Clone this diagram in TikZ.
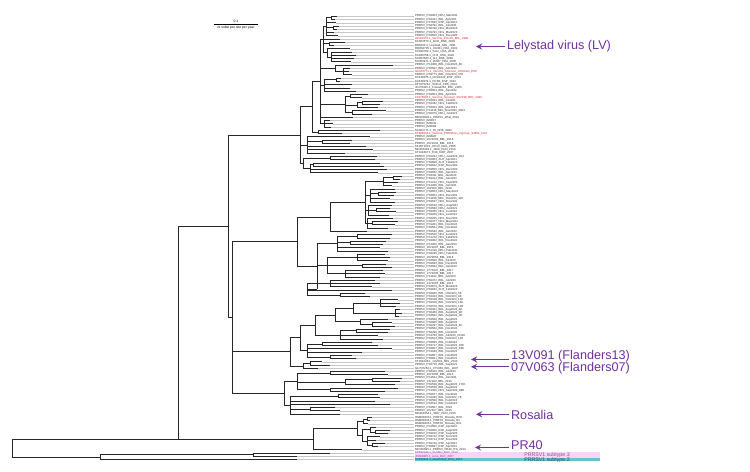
\documentclass[tikz,border=0pt]{standalone}
\usepackage{fontspec}
\setmainfont{Liberation Sans}
\usepackage{xcolor}
\usepackage{tikz}
\usetikzlibrary{arrows}
\definecolor{notepurple}{RGB}{112,48,160}
\definecolor{vacc}{RGB}{228,32,40}
\definecolor{leafc}{RGB}{45,45,45}
\definecolor{subiii}{RGB}{150,60,160}
\definecolor{subii}{RGB}{30,60,90}
\definecolor{bandpink}{RGB}{249,212,249}
\definecolor{bandcyan}{RGB}{96,198,208}
\tikzstyle{branch} = [draw=black!85, line width=0.45pt]
\tikzstyle{guide} = [draw=black!22, line width=0.2pt]
\tikzstyle{leaf} = [anchor=west, inner sep=0.4pt, font=\fontsize{1.65}{1.8}\selectfont]
\tikzstyle{note} = [anchor=west, inner sep=1pt, text=notepurple, font=\fontsize{7.2}{8}\selectfont]
\tikzstyle{pointer} = [draw=notepurple, line width=0.55pt, ->, >=stealth]
\tikzstyle{bandlabel} = [font=\fontsize{3}{3.5}\selectfont]
\tikzstyle{scalelabel} = [inner sep=0pt, font=\fontsize{1.9}{2.2}\selectfont]

\begin{document}
\begin{tikzpicture}[x=0.02cm, y=-0.02cm, declare function={ry(\r)=12.91+3.261*\r;}]
	\useasboundingbox (0,0) rectangle (750,472);
	
	% subtype bands
	\fill[bandpink] (414.5,{ry(134.5)}) rectangle (600,{ry(136.5)});
	\fill[bandcyan] (414.5,{ry(136.5)}) rectangle (600,{ry(137.5)});
	\node (st3) [bandlabel, text=subiii!70!gray] at (547,{ry(135.5)}) {PRRSV1 subtype 3};
	\node (st2) [bandlabel, text=subii!80!gray] at (547,{ry(137)}) {PRRSV1 subtype 2};
	
	% scale bar
	\coordinate (sbl) at (214,24.3);
	\coordinate (sbr) at (258,24.3);
	\draw[line width=0.5pt] (sbl) -- (sbr);
	\node (sbval) [scalelabel] at (236,21.6) {0.1};
	\node (sbunit) [scalelabel] at (236,27.4) {nt subst per site per year};
	
	% leaves: row / parent x / tip x / colour / name
	\foreach \rw/\pa/\tp/\cl/\lab in {
		1/331/337/leafc/PRRSV\_PS0003\_DEU\_Mar2021,
		2/331/335/leafc/PRRSV\_PS0421\_BEL\_Apr2021,
		3/326/336/leafc/PRRSV\_PS7636\_ESP\_Apr2023,
		4/333/339/leafc/PRRSV\_PS0792\_BEL\_Jun2021,
		5/333/337/leafc/PRRSV\_PS0790\_NDL\_Mar2023,
		6/326/334/leafc/PRRSV\_PS0793\_NDL\_Mar2023,
		7/326/338/leafc/PRRSV\_PS0620\_NDL\_Dec2020,
		8/323/340/vacc/AJ010676.1\_Vaccine\_Porcilis\_BEL\_1998,
		9/329/345/leafc/KC862570.1\_1032\_DNK\_2009,
		10/329/334/leafc/M96262.2\_Lelystad\_NDL\_1991,
		11/327/350/leafc/DQ864705.1\_01CB1\_FRA\_2001,
		12/331/352/leafc/KX380760.1\_Swin\_USA\_2014,
		13/331/356/leafc/KX380758.1\_CH4\_USA\_2004,
		14/331/354/leafc/KC862583.1\_111\_DNK\_2009,
		15/331/351/leafc/KU366971.1\_25587\_FRA\_2005,
		16/335/393/leafc/PRRSV\_PS1308\_BEL\_Nov2023\_8K,
		17/343/350/leafc/PRRSV\_PS0697\_BEL\_Jun2023,
		18/343/349/vacc/GU067771.1\_Vaccine\_Amervac\_UniStrain\_ESP,
		19/343/352/leafc/PRRSV\_PS0771\_BEL\_Oct2023\_37K,
		20/336/341/leafc/KX438075.1\_CReSA22\_ESP\_2013,
		21/336/340/leafc/KX438074.1\_DCR3\_ESP\_2012,
		22/324/352/leafc/KF797528.1\_SHE11\_FRA\_2014,
		23/324/350/leafc/JF276435.1\_Cresa3262\_ESP\_2005,
		24/324/356/leafc/PRRSV\_PS0604\_BEL\_Jan2022,
		25/350/368/leafc/PRRSV\_PS0661\_BEL\_Apr2021,
		26/350/362/vacc/LS975963.1\_Vaccine\_Suvaxyn\_96V198\_BEL\_1996,
		27/362/383/leafc/PRRSV\_PS0031\_BEL\_Jul2021,
		28/362/380/leafc/PRRSV\_PS0432\_NDL\_Feb2023,
		29/357/378/leafc/PRRSV\_PS0023\_BEL\_Mar2021,
		30/352/386/leafc/PRRSV\_PS1118\_BEL\_Nov2023\_3604,
		31/352/372/leafc/PRRSV\_PS0079\_DEU\_Jun2021,
		32/320/353/leafc/MN603983.1\_PRRSV\_Dhat\_2019,
		33/324/330/leafc/PRRSV\_IM0017,
		34/324/333/leafc/PRRSV\_IM0049,
		35/324/331/leafc/PRRSV\_IM0089,
		36/318/380/leafc/KC862771.1\_35\_DNK\_2003,
		37/318/342/vacc/KT988004.1\_Vaccine\_PRRSFlex\_Ingelvac\_94881\_USA,
		38/307/370/leafc/PRRSV\_IM0026,
		39/322/352/leafc/PRRSV\_16V1003\_BEL\_2016,
		40/322/350/leafc/PRRSV\_16V1033\_BEL\_2016,
		41/307/366/leafc/KF287130.1\_HK13\_HKG\_2006,
		42/307/373/leafc/MH463418.1\_1488\_HUN\_2016,
		43/307/345/leafc/KT222487.1\_E38\_KOR\_2007,
		44/330/377/leafc/PRRSV\_PS0034\_DEU\_Jun2023\_224,
		45/330/375/leafc/PRRSV\_PS0603\_AUT\_Apr2021,
		46/313/380/leafc/PRRSV\_PS0698\_AUT\_Feb2023,
		47/313/384/leafc/PRRSV\_PS0642\_ESP\_Nov2022,
		48/310/387/leafc/PRRSV\_PS0655\_NDL\_Dec2022,
		49/310/378/leafc/PRRSV\_PS0562\_BEL\_Jan2023,
		50/393/402/leafc/PRRSV\_PS0311\_BEL\_Jan2023,
		51/393/400/leafc/PRRSV\_PS0314\_BEL\_Jan2023,
		52/383/398/leafc/PRRSV\_PS1212\_NDL\_Sep2023,
		53/383/392/leafc/PRRSV\_PS1208\_BEL\_Jan2021,
		54/370/395/leafc/PRRSV\_18V020\_BEL\_2018,
		55/378/396/leafc/PRRSV\_PS0653\_DEU\_May2021,
		56/378/394/leafc/PRRSV\_PS0653\_NDL\_Dec2021,
		57/370/390/leafc/PRRSV\_PS1158\_NDL\_Oct2023\_11K,
		58/370/395/leafc/PRRSV\_PS0637\_NDL\_Nov2021,
		59/368/392/leafc/PRRSV\_PS0618\_DEU\_Aug2021,
		60/376/390/leafc/PRRSV\_PS0580\_DEU\_Jun2021,
		61/376/396/leafc/PRRSV\_PS0265\_NDL\_Jun2022,
		62/368/389/leafc/PRRSV\_PS0269\_NDL\_Jan2022,
		63/367/393/leafc/PRRSV\_PS0225\_NDL\_Nov2022,
		64/372/398/leafc/PRRSV\_PS0377\_NDL\_May2022,
		65/372/395/leafc/PRRSV\_PS1281\_BEL\_Nov2022,
		66/367/388/leafc/PRRSV\_PS0584\_BEL\_Nov2022,
		67/330/367/leafc/PRRSV\_PS0540\_BEL\_Jan2023,
		68/357/392/leafc/PRRSV\_PS0546\_NDL\_Jan2023,
		69/357/390/leafc/PRRSV\_PS1270\_NDL\_Feb2023,
		70/350/386/leafc/PRRSV\_PS0962\_BEL\_Nov2022,
		71/350/383/leafc/PRRSV\_PS1960\_BEL\_Jan2023,
		72/337/380/leafc/PRRSV\_16V1007\_BEL\_2016,
		73/337/388/leafc/PRRSV\_PS1316\_DEU\_Feb2021,
		74/357/385/leafc/PRRSV\_PS0240\_DEU\_Feb2021,
		75/357/390/leafc/PRRSV\_16V0052\_BEL\_2016,
		76/357/388/leafc/PRRSV\_PS0696\_BEL\_Jul2023,
		77/362/386/leafc/PRRSV\_PS0693\_BEL\_Dec2023,
		78/362/392/leafc/PRRSV\_PS0684\_BEL\_Jan2023,
		79/345/383/leafc/PRRSV\_17V1037\_BEL\_2017,
		80/345/385/leafc/PRRSV\_17V1036\_BEL\_2017,
		81/345/380/leafc/PRRSV\_PS1102\_BEL\_Jul2023,
		82/330/375/leafc/PRRSV\_PS0472\_BEL\_Jul2023,
		83/330/380/leafc/PRRSV\_14V1087\_BEL\_2014,
		84/330/372/leafc/PRRSV\_PS0873\_AUT\_Mar2023,
		85/307/392/leafc/PRRSV\_PS0832\_AUT\_Feb2023,
		86/340/365/leafc/PRRSV\_PS0836\_BEL\_Oct2023\_5K,
		87/340/370/leafc/PRRSV\_PS0323\_BEL\_Oct2023\_9K,
		88/380/398/leafc/PRRSV\_PS0328\_BEL\_Oct2023\_12K,
		89/380/400/leafc/PRRSV\_PS0326\_BEL\_Oct2023\_14K,
		90/380/396/leafc/PRRSV\_PS0370\_BEL\_Oct2023\_13K,
		91/395/400/leafc/PRRSV\_PS0461\_BEL\_Aug2023\_8K,
		92/395/402/leafc/PRRSV\_PS0469\_BEL\_Aug2023\_9K,
		93/395/399/leafc/PRRSV\_PS0502\_BEL\_Aug2023\_3K,
		94/360/388/leafc/PRRSV\_PS0580\_BEL\_Aug2023,
		95/372/392/leafc/PRRSV\_PS0606\_BEL\_Aug2023,
		96/372/395/leafc/PRRSV\_PS0297\_BEL\_Sep2023\_4K,
		97/356/390/leafc/PRRSV\_PS0584\_BEL\_Nov2022,
		98/356/388/leafc/PRRSV\_PS0296\_BEL\_Nov2022,
		99/340/378/leafc/PRRSV\_PS1700\_BEL\_Jul2023\_2111K,
		100/340/383/leafc/PRRSV\_PS0523\_BEL\_Oct2023\_12K,
		101/322/372/leafc/PRRSV\_PS0695\_BEL\_Feb2022,
		102/322/378/leafc/PRRSV\_PS0717\_BEL\_Nov2023\_30K,
		103/307/392/leafc/PRRSV\_PS0807\_BEL\_Nov2023\_39K,
		104/307/362/leafc/PRRSV\_PS1030\_BEL\_Nov2021,
		105/330/352/leafc/PRRSV\_PS0807\_BEL\_Nov2023,
		106/330/356/leafc/PRRSV\_PS0801\_BEL\_Nov2021,
		107/310/322/leafc/KT159248.1\_13V091\_BEL\_2013,
		108/310/330/leafc/PRRSV\_PS0716\_BEL\_Sep2021,
		109/303/318/leafc/GU737264.1\_07V063\_BEL\_2007,
		110/330/385/leafc/PRRSV\_PS0423\_BEL\_Jul2023,
		111/330/388/leafc/PRRSV\_16V1058\_BEL\_2016,
		112/372/402/leafc/PRRSV\_PS1521\_BEL\_Jan2021,
		113/372/400/leafc/PRRSV\_13V100\_BEL\_2013,
		114/345/395/leafc/PRRSV\_PS0536\_BEL\_Aug2023\_171K,
		115/330/398/leafc/PRRSV\_PS0538\_BEL\_Aug2023,
		116/330/385/leafc/PRRSV\_PS1305\_NDL\_Sep2023\_88K,
		117/338/378/leafc/PRRSV\_PS0877\_BEL\_Nov2022,
		118/338/380/leafc/PRRSV\_PS1280\_BEL\_Oct2022\_7K,
		119/290/375/leafc/PRRSV\_PS0508\_BEL\_Feb2023,
		120/290/390/leafc/PRRSV\_PS0512\_BEL\_Feb2023,
		121/310/335/leafc/PRRSV\_PS0507\_BEL\_2016,
		122/310/340/leafc/PRRSV\_16V107\_BEL\_2016,
		123/290/340/leafc/MH463454.1\_9007\_HUN\_2016,
		124/367/372/leafc/OM883833.1\_PRRSV\_Rosalia\_R28,
		125/367/370/leafc/OM883834.1\_PRRSV\_Rosalia\_R1,
		126/363/368/leafc/OM883835.1\_PRRSV\_Rosalia\_R21,
		127/370/376/leafc/PRRSV\_PS1590\_ESP\_Apr2023,
		128/375/390/leafc/PRRSV\_PS0906\_ESP\_Aug2023,
		129/375/388/leafc/PRRSV\_PS0910\_ESP\_Aug2023,
		130/367/380/leafc/PRRSV\_PS0742\_ESP\_Nov2022,
		131/367/376/leafc/PRRSV\_PS0714\_ESP\_Nov2022,
		132/372/385/leafc/PRRSV\_PS0749\_ESP\_Apr2023,
		133/372/378/leafc/PRRSV\_PS0897\_ESP\_Apr2023,
		134/313/362/leafc/MF346695.1\_PRRSV\_PR40\_ITA\_2014,
		135/253/330/subiii/KP889243.1\_SU1Bel\_BLR\_2010,
		136/253/297/subiii/JF802085.1\_Lena\_BLR\_2007,
		137/100/297/subii/KX668221.1\_WestSib13\_RUS\_2013} {
		\node (l\rw) [leaf, text=\cl] at (414,{ry(\rw)}) {\lab};
		\draw[guide] (\tp,{ry(\rw)}) -- (l\rw.west);
		\draw[branch] (\pa,{ry(\rw)}) -- (\tp,{ry(\rw)});
	}
	
	% internal nodes: x / first child row / last child row / parent x
	\foreach \x/\a/\b/\pa in {
		331/1/2/326, 333/4/5/326, 326/1.5/7/323, 329/9/10/323,
		331/12/15/327, 327/11/13.5/323, 323/4.25/12.25/320,
		343/17/19/335, 335/16/18/320, 336/20/21/324, 324/20.5/24/320,
		350/25/26/345, 362/27/28/357, 357/27.5/29/345, 352/30/31/345,
		345/25.5/30.5/320, 324/33/35/320, 320/8.25/34/312,
		318/36/37/312, 312/21.125/36.5/300, 322/39/40/307, 307/38/43/300,
		330/44/45/303, 313/46/47/310, 310/46.5/49/303, 303/44.5/47.75/300,
		300/28.8125/46.125/228,
		393/50/51/383, 383/50.5/53/365, 378/55/56/370, 370/54/58/365,
		376/60/61/368, 368/59/62/365, 372/64/65/367, 367/63/66/365,
		365/51.75/64.5/330, 330/58.125/67/297,
		357/68/69/337, 350/70/71/337, 337/68.5/73/317,
		357/74/76/327, 362/77/78/327, 345/79/81/327, 327/75/80/317,
		330/82/84/307, 340/86/87/307, 307/83/86.5/317,
		317/70.75/84.75/297, 297/62.5625/77.75/232,
		380/88/90/353, 395/91/93/353, 353/89/92/335,
		372/95/96/360, 360/94/95.5/335, 335/90.5/94.75/315,
		356/97/98/340, 340/97.5/100/315, 315/92.625/98.75/300,
		322/101/102/307, 330/105/106/307, 307/101.5/105.5/300,
		300/95.6875/103.5/290, 310/107/108/303, 303/107.5/109/290,
		290/99.59375/108.25/232,
		330/110/111/297, 372/112/113/345, 345/112.5/114/297,
		330/115/116/297, 297/110.5/115.5/284,
		338/117/118/290, 310/121/122/290, 290/117.5/123/284,
		284/113/120.25/232,
		232/70.15625/116.625/228, 228/37.46875/93.390625/178,
		367/124/125/363, 363/124.5/126/357,
		375/128/129/370, 370/127/128.5/362,
		372/132/133/367, 367/130/132.5/362, 362/127.75/131.25/357,
		357/125.25/129.5/313, 313/127.375/134/178,
		253/135/136/100} {
		\draw[branch] (\x,{ry(\a)}) -- (\x,{ry(\b)});
		\draw[branch] (\pa,{ry((\a+\b)/2)}) -- (\x,{ry((\a+\b)/2)});
	}
	
	% subtype 1 stem and root
	\draw[branch] (178,{ry(65.4297)}) -- (178,{ry(130.6875)});
	\draw[branch] (12,{ry(130.6875)}) -- (178,{ry(130.6875)});
	\draw[branch] (12,{ry(136.25)}) -- (100,{ry(136.25)});
	\draw[branch] (100,{ry(135.5)}) -- (100,{ry(137)});
	\draw[branch] (12,{ry(130.6875)}) -- (12,{ry(136.25)});
	
	% annotations
	\node (lv) [note] at (505,46.6) {Lelystad virus (LV)};
	\node (fl13) [note] at (509,356.4) {13V091 (Flanders13)};
	\node (fl07) [note] at (509,368.6) {07V063 (Flanders07)};
	\node (ros) [note] at (509,414.6) {Rosalia};
	\node (pr40) [note] at (509,445) {PR40};
	\coordinate (lvtip) at (476,46.6);
	\coordinate (fl13tip) at (471,359.4);
	\coordinate (fl07tip) at (471,366.8);
	\coordinate (rostip) at (476,414.3);
	\coordinate (pr40tip) at (475,447.5);
	
	\draw[pointer] (lv.west) -- (lvtip);
	\draw[pointer] (fl13.west |- fl13tip) -- (fl13tip);
	\draw[pointer] (fl07.west |- fl07tip) -- (fl07tip);
	\draw[pointer] (ros.west |- rostip) -- (rostip);
	\draw[pointer] (pr40.west |- pr40tip) -- (pr40tip);
	
\end{tikzpicture}
\end{document}
